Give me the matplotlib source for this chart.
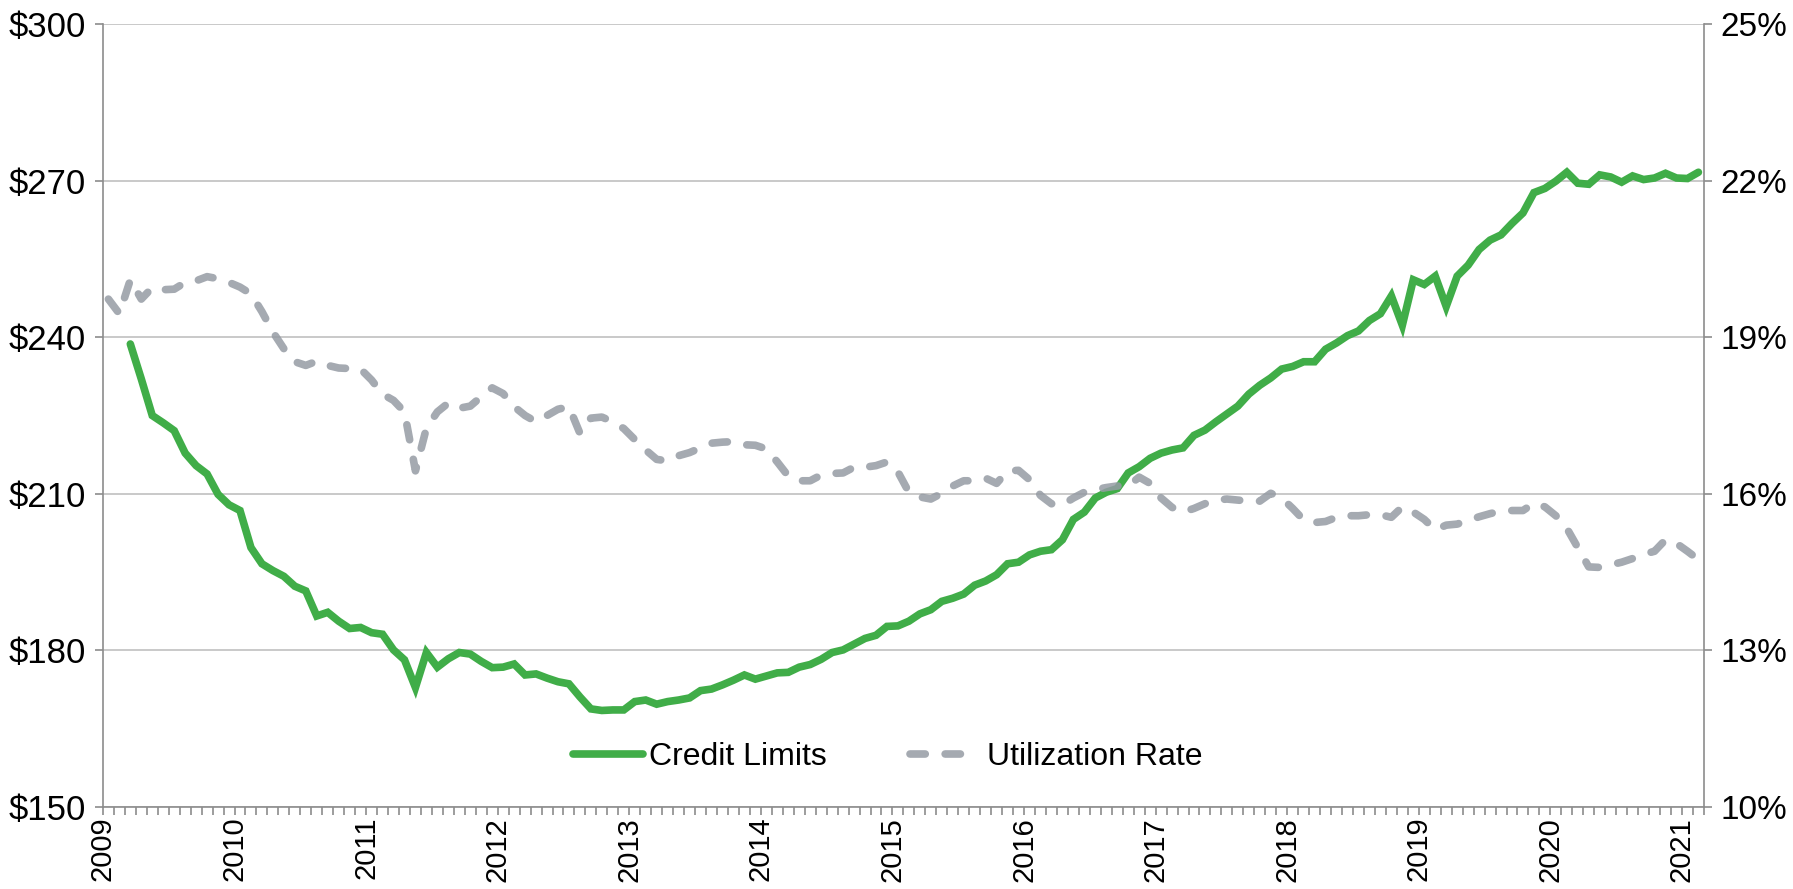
import numpy as np
import matplotlib.pyplot as plt
from matplotlib.lines import Line2D

plt.rcParams['font.family'] = ['Liberation Sans', 'DejaVu Sans']

# --------------------------
# Monthly data, Jan 2009 - Feb 2021
# --------------------------
year_labels = [str(y) for y in range(2009, 2022)]

# Credit limits ($), Mar 2009 onward
credit_limits = [
    238.7, 232.0, 225.0, 223.6, 222.1, 217.8, 215.4, 213.8, 209.9, 207.9,
    206.8, 199.7, 196.6, 195.3, 194.2, 192.3, 191.4, 186.6, 187.3, 185.6,
    184.2, 184.4, 183.4, 183.1, 180.1, 178.2, 172.9, 179.6, 176.8, 178.4,
    179.6, 179.3, 177.9, 176.7, 176.8, 177.4, 175.3, 175.5, 174.7, 174.0,
    173.6, 171.1, 168.8, 168.5, 168.6, 168.6, 170.2, 170.5, 169.7, 170.2,
    170.5, 170.9, 172.3, 172.6, 173.4, 174.3, 175.3, 174.5, 175.1, 175.7,
    175.8, 176.8, 177.3, 178.3, 179.6, 180.1, 181.2, 182.3, 182.9, 184.6,
    184.7, 185.6, 187.0, 187.8, 189.4, 190.0, 190.8, 192.5, 193.3, 194.5,
    196.6, 196.9, 198.3, 199.0, 199.3, 201.2, 205.1, 206.5, 209.2, 210.3,
    211.0, 214.0, 215.2, 216.8, 217.8, 218.4, 218.8, 221.2, 222.2, 223.8,
    225.3, 226.8, 229.1, 230.8, 232.2, 233.9, 234.4, 235.3, 235.3, 237.7,
    238.9, 240.3, 241.2, 243.2, 244.5, 247.9, 242.3, 251.0, 250.1, 251.7,
    245.9, 251.7, 253.8, 256.8, 258.6, 259.6, 261.8, 263.8, 267.7, 268.5,
    269.9, 271.6, 269.5, 269.3, 271.1, 270.7, 269.7, 270.9, 270.2, 270.5,
    271.4, 270.5, 270.4, 271.6,
]

# Utilization rate (%), Jan 2009 onward
utilization = [
    19.73, 19.45, 20.10, 19.73, 19.95, 19.91, 19.92, 20.05, 20.08, 20.16,
    20.12, 20.05, 19.96, 19.83, 19.49, 19.10, 18.78, 18.53, 18.46, 18.54,
    18.46, 18.41, 18.40, 18.39, 18.18, 17.91, 17.79, 17.57, 16.44, 17.26,
    17.57, 17.74, 17.64, 17.68, 17.86, 18.03, 17.92, 17.67, 17.50, 17.38,
    17.50, 17.62, 17.67, 17.16, 17.45, 17.47, 17.38, 17.25, 17.04, 16.84,
    16.66, 16.63, 16.73, 16.79, 16.88, 16.97, 16.99, 17.00, 16.94, 16.93,
    16.86, 16.61, 16.34, 16.25, 16.25, 16.36, 16.39, 16.40, 16.51, 16.51,
    16.54, 16.61, 16.42, 16.03, 15.94, 15.90, 16.01, 16.15, 16.25, 16.25,
    16.30, 16.20, 16.44, 16.45, 16.27, 15.97, 15.81, 15.79, 15.92, 16.03,
    16.08, 16.12, 16.15, 16.15, 16.32, 16.20, 15.92, 15.74, 15.65, 15.72,
    15.81, 15.88, 15.90, 15.88, 15.86, 15.86, 16.01, 15.92, 15.72, 15.50,
    15.45, 15.47, 15.55, 15.58, 15.58, 15.60, 15.60, 15.55, 15.75, 15.65,
    15.51, 15.31, 15.40, 15.42, 15.49, 15.56, 15.62, 15.67, 15.68, 15.68,
    15.82, 15.75, 15.58, 15.34, 14.97, 14.60, 14.59, 14.64, 14.69, 14.76,
    14.84, 14.90, 15.12, 15.05, 14.90, 14.74,
]

n_months = len(utilization)
# points sit in the middle of each monthly slot
x_util = np.arange(n_months) + 0.5
x_credit = x_util[n_months - len(credit_limits):]

GREEN = '#40ad48'
GRAY = '#959ba4'
AXIS = '#8c8c8c'
GRID = '#c0c0c0'
LW = 5.5
DASH = (2.0, 2.6)

# --------------------------
# Plotting
# --------------------------
fig = plt.figure(figsize=(17.93, 8.89), dpi=100)
ax = fig.add_axes([0.0574, 0.0922, 0.8929, 0.8808])
ax2 = ax.twinx()

ax.plot(x_credit, credit_limits, color=GREEN, linewidth=LW,
        solid_joinstyle='miter', solid_capstyle='round', label='Credit Limits')
ax2.plot(x_util, utilization, color=GRAY, alpha=0.85, linewidth=LW,
         dashes=DASH, dash_capstyle='round', label='Utilization Rate')

# left axis: dollars
ax.set_xlim(0, n_months)
ax.set_ylim(150, 300)
ax.set_yticks(range(150, 301, 30))
ax.set_yticklabels([r'\$%d' % v for v in range(150, 301, 30)], fontsize=25)
ax.grid(axis='y', color=GRID, linewidth=1.2)
ax.set_axisbelow(True)

# right axis: percent
ax2.set_ylim(10, 25)
ax2.set_yticks(range(10, 26, 3))
ax2.set_yticklabels(['%d%%' % v for v in range(10, 26, 3)], fontsize=24)

# x axis: monthly ticks, labels at each January
ax.set_xticks(np.arange(0, n_months, 12))
ax.set_xticklabels(year_labels, rotation=90, fontsize=21)
ax.set_xticks(np.arange(0, n_months + 1), minor=True)

for a in (ax, ax2):
    for s in a.spines.values():
        s.set_visible(False)
ax.spines['left'].set_visible(True)
ax.spines['bottom'].set_visible(True)
ax2.spines['right'].set_visible(True)
for s in (ax.spines['left'], ax.spines['bottom'], ax2.spines['right']):
    s.set_color(AXIS)
    s.set_linewidth(1.2)

ax.tick_params(axis='y', length=6, width=1.2, color=AXIS, pad=6)
ax.tick_params(axis='x', which='both', length=6, width=1.2, color=AXIS, pad=1)
ax2.tick_params(axis='y', length=6, width=1.2, color=AXIS, pad=6)

handles = [Line2D([], [], color=GREEN, linewidth=LW, solid_capstyle='round'),
           Line2D([], [], color=GRAY, alpha=0.85, linewidth=LW,
                  dashes=DASH, dash_capstyle='round')]
ax2.legend(handles, ['Credit Limits', 'Utilization Rate'], loc='center',
           bbox_to_anchor=(0.49, 0.064), ncol=2, frameon=False, fontsize=23,
           handlelength=2.2, handletextpad=0.2, columnspacing=2.6)

fig.savefig('out.png', dpi=100)
